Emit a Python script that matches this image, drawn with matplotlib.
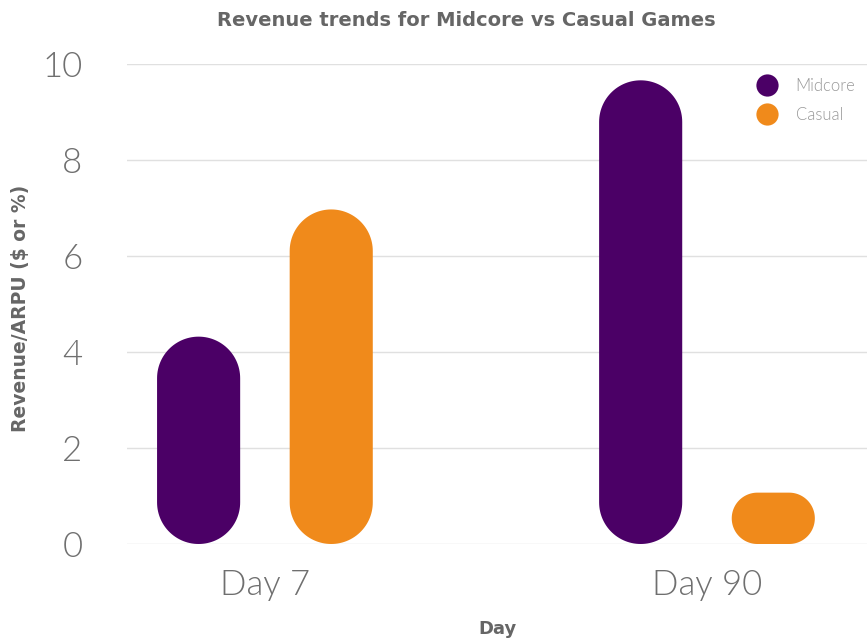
import matplotlib
matplotlib.use("Agg")
import matplotlib.pyplot as plt
from matplotlib.patches import Polygon
from matplotlib.lines import Line2D
import numpy as np

# Data
days = ["Day 7", "Day 90"]
midcore = [4.32, 9.66]
casual = [6.97, 1.07]
series_names = ["Midcore", "Casual"]
series_colors = ["#4b0066", "#f08a1b"]

plt.rcParams['font.family'] = ['Lato', 'DejaVu Sans']

fig = plt.figure(figsize=(8.67, 6.38), dpi=100)
ax = fig.add_axes([127 / 867, 94 / 638, 740 / 867, 480 / 638])

x = np.arange(len(days))
width = 0.188
offset = 0.15
ax.set_xlim(-0.312, 1.362)
ax.set_ylim(0, 10)

# invisible bars to get geometry, replaced by pill shapes
bars = []
for vals, dx in [(midcore, -offset), (casual, offset)]:
    bars.append(ax.bar(x + dx, vals, width, alpha=0))

fig.canvas.draw()
# pixel per data unit
p0 = ax.transData.transform((0, 0))
p1 = ax.transData.transform((1, 1))
px_x = p1[0] - p0[0]
px_y = p1[1] - p0[1]


def pill(bx, by, bw, bh):
    # rounded rectangle with circular corners (in pixels)
    r_px = min(bw * px_x, bh * px_y) / 2
    rx, ry = r_px / px_x, r_px / px_y
    t = np.linspace(0, np.pi / 2, 30)
    pts = []
    corners = [((bx + bw - rx, by + bh - ry), 0),
               ((bx + rx, by + bh - ry), np.pi / 2),
               ((bx + rx, by + ry), np.pi),
               ((bx + bw - rx, by + ry), 1.5 * np.pi)]
    for (cx, cy), a0 in corners:
        pts += list(zip(cx + rx * np.cos(a0 + t), cy + ry * np.sin(a0 + t)))
    return np.array(pts)


for cont, color in zip(bars, series_colors):
    for rect in cont:
        verts = pill(rect.get_x(), rect.get_y(), rect.get_width(), rect.get_height())
        ax.add_patch(Polygon(verts, closed=True, facecolor=color,
                             edgecolor='none', zorder=3))

# Format axes
ax.set_yticks([0, 2, 4, 6, 8, 10])
ax.set_xticks(x)
ax.set_xticklabels(days)
ax.grid(axis='y', color='#e0e0e0', linewidth=1)
ax.set_axisbelow(True)
for s in ax.spines.values():
    s.set_visible(False)
ax.tick_params(axis='y', length=0, pad=32, labelsize=25, labelcolor='#6f6f6f')
ax.tick_params(axis='x', length=0, pad=18, labelsize=25, labelcolor='#6f6f6f')
for lab in ax.get_xticklabels() + ax.get_yticklabels():
    lab.set_fontweight(300)

ax.set_xlabel('Day', fontsize=13, fontweight='bold', color='#666666',
              labelpad=14, family='DejaVu Sans')
ax.set_ylabel('Revenue/ARPU ($ or %)', fontsize=13.5, fontweight='bold',
              color='#666666', family='DejaVu Sans')
ax.yaxis.set_label_coords(-0.131, 0.49)
fig.text(0.538, 0.968, 'Revenue trends for Midcore vs Casual Games',
         ha='center', va='center', fontsize=14, fontweight='bold',
         color='#666666', family='DejaVu Sans')

handles = [Line2D([], [], marker='o', linestyle='none', markersize=16,
                  markerfacecolor=c, markeredgecolor='none') for c in series_colors]
leg = ax.legend(handles, series_names, loc='upper right', bbox_to_anchor=(1.0, 0.995),
                frameon=False, fontsize=12, labelcolor='#999999',
                handletextpad=0.7, labelspacing=0.75, borderaxespad=0.3)
for t in leg.get_texts():
    t.set_fontweight(300)

fig.savefig('out.png', dpi=100)
